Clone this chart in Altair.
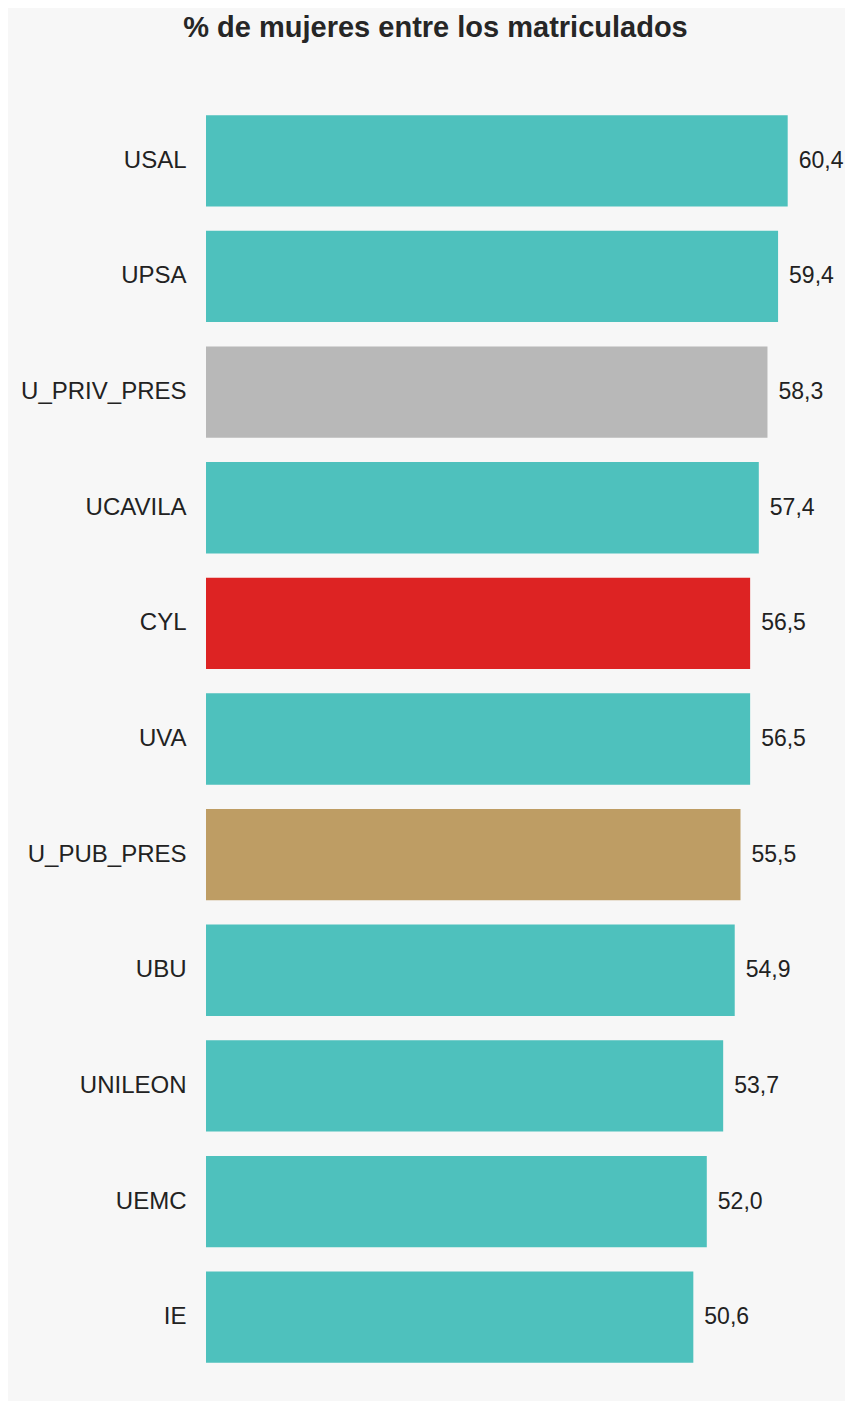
import altair as alt
import pandas as pd

# Data
universidades = ["USAL", "UPSA", "U_PRIV_PRES", "UCAVILA", "CYL", "UVA",
                 "U_PUB_PRES", "UBU", "UNILEON", "UEMC", "IE"]
porcentaje = [60.4, 59.4, 58.3, 57.4, 56.5, 56.5, 55.5, 54.9, 53.7, 52.0, 50.6]
tipo = ["univ", "univ", "priv_pres", "univ", "cyl", "univ",
        "pub_pres", "univ", "univ", "univ", "univ"]

df = pd.DataFrame({"uni": universidades, "pct": porcentaje, "tipo": tipo})

FONT = "Liberation Sans, Arial, Helvetica, sans-serif"

color_scale = alt.Scale(
    domain=["univ", "priv_pres", "cyl", "pub_pres"],
    range=["#4ec1bd", "#b8b8b8", "#dd2323", "#be9d64"],
)

y_enc = alt.Y(
    "uni:N",
    sort=None,
    scale=alt.Scale(paddingInner=0.21, paddingOuter=0.2),
    axis=alt.Axis(
        title=None, ticks=False, tickSize=0, domain=False, grid=False,
        labelFontSize=24, labelColor="#222222", labelFont=FONT,
        labelPadding=20,
    ),
)
x_enc = alt.X(
    "pct:Q",
    scale=alt.Scale(domain=[0, 65], nice=False, zero=True),
    axis=None,
)

bars = alt.Chart(df).mark_bar().encode(
    y=y_enc,
    x=x_enc,
    color=alt.Color("tipo:N", scale=color_scale, legend=None),
)

labels = alt.Chart(df).transform_calculate(
    etiqueta="replace(format(datum.pct, '.1f'), '.', ',')"
).mark_text(
    align="left", baseline="middle", dx=11, fontSize=23, color="#222222", font=FONT
).encode(
    y=alt.Y("uni:N", sort=None),
    x="pct:Q",
    text="etiqueta:N",
)

chart = (
    alt.layer(bars, labels)
    .properties(
        width=626,
        height=1294,
        background="#f7f7f7",
        padding={"left": 198, "top": 84, "right": 13, "bottom": 15},
        autosize=alt.AutoSizeParams(type="none"),
        title=alt.TitleParams(
            text="% de mujeres entre los matriculados",
            fontSize=29, fontWeight="bold", color="#262626", font=FONT,
            anchor="middle", frame="group", dx=-83.5, offset=49,
        ),
    )
    .configure_view(stroke=None, fill="#f7f7f7")
)

chart.save("out.html", embed_options={"renderer": "svg", "actions": False})
